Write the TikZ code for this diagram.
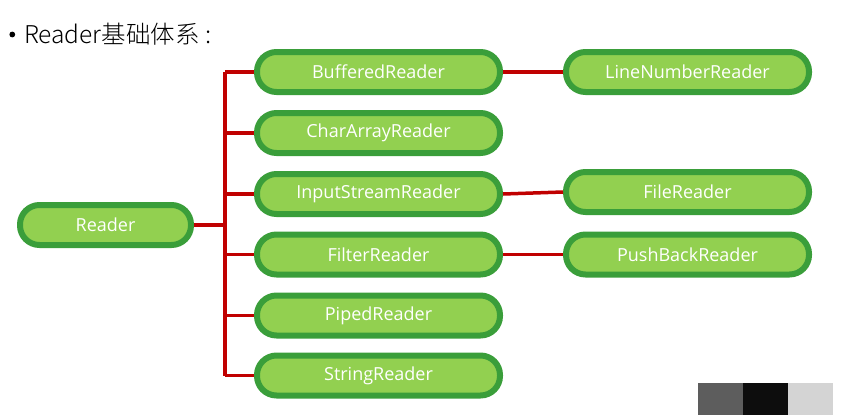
\documentclass[tikz,border=0pt]{standalone}
\usepackage{fontspec}
\setmainfont{Open Sans}
\newfontfamily\cjkfont{Noto Sans CJK SC}[UprightFont=* Light]
\definecolor{nodefill}{HTML}{92D050}
\definecolor{nodeedge}{HTML}{3A9E3A}
\definecolor{linkred}{HTML}{C00000}
\begin{document}
\begin{tikzpicture}[x=1pt,y=-1pt,
  cls/.style={draw=nodeedge, fill=nodefill, line width=6pt, rounded corners=19.5pt,
    minimum height=40pt, inner sep=0pt, text=white, font=\fontsize{18}{20}\selectfont},
  midcls/.style={cls, minimum width=243pt},
  link/.style={draw=linkred, line width=3.5pt}]
\useasboundingbox (0,0) rectangle (842,415);
% title
\fill[black] (12.3,34.5) circle (2.9pt);
\node[anchor=base west, inner sep=0pt, font=\cjkfont\fontsize{24.5}{26}\selectfont] (title) at (24,43) {Reader基础体系 :};
% nodes
\node[cls, minimum width=171pt] (reader) at (105.5,225) {Reader};
\node[midcls] (buf) at (378.5,72) {BufferedReader};
\node[midcls] (car) at (378.5,133) {CharArrayReader};
\node[midcls] (isr) at (378.5,194) {InputStreamReader};
\node[midcls] (flt) at (378.5,254.5) {FilterReader};
\node[midcls] (pip) at (378.5,315.5) {PipedReader};
\node[midcls] (str) at (378.5,375.5) {StringReader};
\node[midcls] (lnr) at (687.5,72) {LineNumberReader};
\node[midcls] (fil) at (687.5,192) {FileReader};
\node[midcls] (pbr) at (687.5,254.5) {PushBackReader};
% trunk
\coordinate (trunk) at (225,225);
\coordinate (ttop) at (225,72);
\coordinate (tbot) at (225,375.5);
\draw[link] (ttop) -- (tbot);
\draw[link] (reader.east) -- (trunk);
\foreach \n in {buf,car,isr,flt,pip,str}{
  \draw[link] (\n.west) -- (\n.west -| trunk);
}
\draw[link] (buf.east) -- (lnr.west);
\draw[link] (isr.east) -- (fil.west);
\draw[link] (flt.east) -- (pbr.west);
% corner swatches
\fill[fill={rgb,255:red,93;green,93;blue,93}] (698,383) rectangle (743,415);
\fill[fill={rgb,255:red,13;green,13;blue,13}] (743,383) rectangle (788,415);
\fill[fill={rgb,255:red,212;green,212;blue,212}] (788,383) rectangle (833,415);
\end{tikzpicture}
\end{document}
